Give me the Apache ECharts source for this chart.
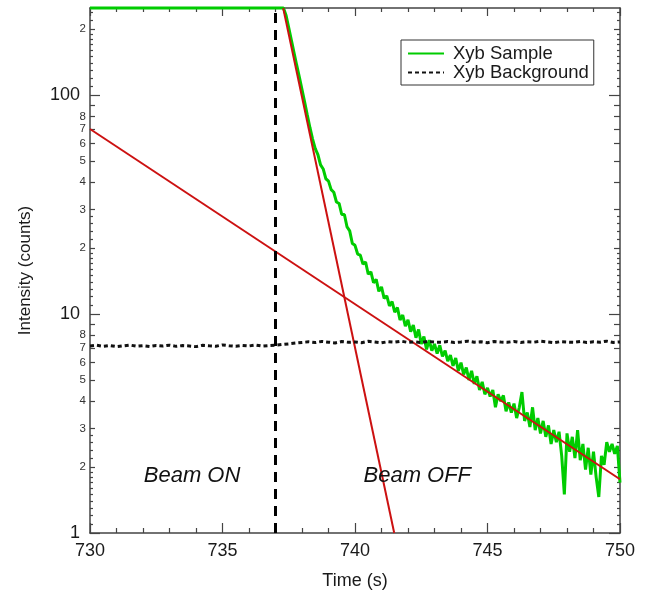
<!DOCTYPE html>
<html>
<head>
<meta charset="utf-8">
<script src="https://cdn.jsdelivr.net/npm/echarts@6/dist/echarts.min.js"></script>
<style>
  html, body { margin: 0; padding: 0; background: #fff; }
  #chart { width: 652px; height: 596px; }
</style>
</head>
<body>
<div id="chart"></div>
<script>
// ---- data -------------------------------------------------------------
// Sample counts: detector saturated while the beam is on
const saturatedTime = [730];
const saturatedCounts = [250];

// Sample counts after beam shut-off, one reading every 0.1 s from 737.3 s
const decayStart = 737.3;
const decayStep = 0.1;
const decayCounts = [
  250, 231, 203, 178, 156, 137, 121, 106, 93, 81,
  71, 63, 57, 53.5, 48, 46, 41.5, 40.5, 37, 36,
  32.5, 32, 28.5, 28.5, 25, 24, 21, 20.6, 18.8, 18.6,
  16.9, 17.3, 15.2, 15.6, 13.9, 14.4, 12.7, 13.3, 11.8, 12.1,
  10.9, 11.4, 10.2, 10.7, 9.4, 9.9, 8.8, 9.4, 8.3, 8.9,
  7.8, 8.5, 7.3, 7.9, 6.9, 7.6, 6.8, 7.3, 6.6, 7.2,
  6.4, 6.8, 6.1, 6.5, 5.8, 6.3, 5.5, 6.0, 5.3, 5.7,
  5.0, 5.5, 4.8, 5.2, 4.5, 4.9, 4.3, 4.6, 4.2, 4.5,
  3.75, 4.3, 4.0, 4.25, 3.6, 3.95, 3.55, 3.9, 3.35, 3.75,
  4.4, 3.25, 3.55, 3.05, 3.75, 2.95, 3.35, 2.85, 3.25, 2.75,
  3.1, 2.55, 2.95, 2.6, 2.9, 2.25, 1.5, 2.85, 2.35, 2.75,
  2.2, 2.95, 2.15, 2.55, 1.95, 2.45, 1.85, 2.35, 1.8, 1.46,
  2.25, 2.05, 2.6, 2.35, 2.55, 2.3, 2.5, 1.7
];

// Background counts, one reading every 0.25 s from 730 s
const bgStart = 730;
const bgStep = 0.25;
const bgCounts = [
  7.15, 7.20, 7.12, 7.18, 7.10, 7.16, 7.22, 7.13,
  7.17, 7.11, 7.19, 7.14, 7.21, 7.12, 7.18, 7.15,
  7.10, 7.20, 7.16, 7.13, 7.23, 7.17, 7.12, 7.19,
  7.15, 7.22, 7.14, 7.18,
  7.20, 7.26, 7.31, 7.37,
  7.42, 7.47, 7.41, 7.50, 7.44, 7.38, 7.49, 7.43,
  7.46, 7.40, 7.51, 7.45, 7.39, 7.48, 7.44, 7.52,
  7.42, 7.47, 7.40, 7.50, 7.45, 7.43, 7.49, 7.41,
  7.46, 7.52, 7.44, 7.47, 7.40, 7.49, 7.45, 7.43,
  7.50, 7.42, 7.47, 7.44, 7.51, 7.46, 7.40, 7.48,
  7.45, 7.43, 7.50, 7.41, 7.47, 7.44, 7.52, 7.42,
  7.46
];

// Exponential fits (straight lines on the log axis): end points
const fastFitTime = [737.29, 741.48];
const fastFitCounts = [250, 1];
const slowFitTime = [730, 750];
const slowFitCounts = [70, 1.76];

// Beam switch-off time
const beamOffTime = 737;

// Region annotations
const noteText = ['Beam ON', 'Beam OFF'];
const noteTime = [733.85, 742.35];
const noteCounts = [1.83, 1.83];

// Axis ranges and ticks
const xMin = 730, xMax = 750, xStep = 5;
const yMin = 1, yMax = 250;
const yMajorTicks = [1, 10, 100];
const yMidTicks = [2, 3, 4, 5, 6, 7, 8, 9, 20, 30, 40, 50, 60, 70, 80, 90, 200];
const yMidLabels = [2, 3, 4, 5, 6, 7, 8, 20, 30, 40, 50, 60, 70, 80, 200];
const yFineTicks = [
  1.1, 1.2, 1.3, 1.4, 1.5, 1.6, 1.7, 1.8, 1.9, 2.2, 2.4, 2.6, 2.8,
  11, 12, 13, 14, 15, 16, 17, 18, 19, 22, 24, 26, 28,
  110, 120, 130, 140, 150, 160, 170, 180, 190, 220, 240
];

// ---- helpers ----------------------------------------------------------
const FONT = "'Liberation Sans', Arial, Helvetica, sans-serif";
const AXIS_COLOR = '#444';
const TEXT_COLOR = '#1a1a1a';
const round2 = v => Math.round(v * 100) / 100;

const sampleData = saturatedTime.map((t, i) => [t, saturatedCounts[i]])
  .concat(decayCounts.map((v, i) => [round2(decayStart + i * decayStep), v]));
const bgData = bgCounts.map((v, i) => [round2(bgStart + i * bgStep), v]);
const fastFitData = fastFitTime.map((t, i) => [t, fastFitCounts[i]]);
const slowFitData = slowFitTime.map((t, i) => [t, slowFitCounts[i]]);
const noteData = noteText.map((s, i) => ({ value: [noteTime[i], noteCounts[i]], name: s }));

const leadingDigit = v => String(Math.round(v / Math.pow(10, Math.floor(Math.log10(v) + 1e-9))));

// One log-scaled y axis layer: a set of ticks of one length (and optional labels)
function yLayer(position, ticks, length, labelOpt, showLine) {
  return {
    type: 'log', logBase: 10, min: yMin, max: yMax, position: position, offset: 0,
    axisLine: { show: !!showLine, lineStyle: { color: AXIS_COLOR, width: 1.5 } },
    axisTick: { show: true, inside: true, length: length, customValues: ticks,
      lineStyle: { color: AXIS_COLOR, width: 1.2 } },
    minorTick: { show: false },
    splitLine: { show: false },
    axisLabel: labelOpt || { show: false }
  };
}

const chart = echarts.init(document.getElementById('chart'), null, { renderer: 'canvas' });

const option = {
  animation: false,
  textStyle: { fontFamily: FONT },
  grid: { left: 90, right: 32, top: 8, bottom: 63, containLabel: false, outerBoundsMode: 'none' },
  legend: {
    data: ['Xyb Sample', 'Xyb Background'],
    orient: 'vertical', left: 401, top: 40,
    backgroundColor: '#fff', borderColor: '#333', borderWidth: 1, borderRadius: 0,
    padding: [4, 5, 3, 6], itemGap: 0, itemWidth: 36, itemHeight: 14,
    itemStyle: { opacity: 0 },
    textStyle: { fontFamily: FONT, fontSize: 18.5, color: TEXT_COLOR, lineHeight: 19, padding: [0, 0, 0, 4] }
  },
  xAxis: [
    {
      type: 'value', min: xMin, max: xMax, interval: xStep, position: 'bottom',
      name: 'Time (s)', nameLocation: 'middle', nameGap: 39,
      nameTextStyle: { fontFamily: FONT, fontSize: 18, color: TEXT_COLOR },
      axisLine: { lineStyle: { color: AXIS_COLOR, width: 1.5 } },
      axisTick: { inside: true, length: 10, lineStyle: { color: AXIS_COLOR, width: 1.2 } },
      minorTick: { show: true, splitNumber: 5, length: 5, lineStyle: { color: AXIS_COLOR, width: 1.2 } },
      axisLabel: { fontFamily: FONT, fontSize: 18, color: TEXT_COLOR, margin: 9 },
      splitLine: { show: false }
    },
    {
      type: 'value', min: xMin, max: xMax, interval: xStep, position: 'top',
      axisLine: { lineStyle: { color: AXIS_COLOR, width: 1.5 } },
      axisTick: { inside: true, length: 8, lineStyle: { color: AXIS_COLOR, width: 1.2 } },
      minorTick: { show: true, splitNumber: 5, length: 4, lineStyle: { color: AXIS_COLOR, width: 1.2 } },
      axisLabel: { show: false },
      splitLine: { show: false }
    }
  ],
  yAxis: [
    Object.assign(yLayer('left', yMajorTicks, 10, {
      show: true, customValues: yMajorTicks, fontFamily: FONT, fontSize: 18, color: TEXT_COLOR, margin: 10
    }, true), {
      name: 'Intensity (counts)', nameLocation: 'middle', nameGap: 56, nameRotate: 90,
      nameTextStyle: { fontFamily: FONT, fontSize: 17, color: TEXT_COLOR }
    }),
    yLayer('left', yMidTicks, 5, {
      show: true, customValues: yMidLabels, fontFamily: FONT, fontSize: 11.5, color: '#333', margin: 4,
      formatter: v => leadingDigit(v)
    }, false),
    yLayer('left', yFineTicks, 3, null, false),
    yLayer('right', yMajorTicks, 11, null, true),
    yLayer('right', yMidTicks, 6, null, false),
    yLayer('right', yFineTicks, 3, null, false)
  ],
  series: [
    {
      name: 'Xyb Sample', type: 'line', xAxisIndex: 0, yAxisIndex: 0,
      data: sampleData, symbol: 'none', clip: false, z: 2,
      lineStyle: { color: '#00cc00', width: 3 }, itemStyle: { color: '#00cc00' }
    },
    {
      name: 'Xyb Background', type: 'line', xAxisIndex: 0, yAxisIndex: 0,
      data: bgData, symbol: 'none', z: 4,
      lineStyle: { color: '#111', width: 3, type: [4, 3] }, itemStyle: { color: '#111' }
    },
    {
      name: 'Fast fit', type: 'line', xAxisIndex: 0, yAxisIndex: 0,
      data: fastFitData, symbol: 'none', clip: true, z: 3,
      lineStyle: { color: '#cc1111', width: 2 }
    },
    {
      name: 'Slow fit', type: 'line', xAxisIndex: 0, yAxisIndex: 0,
      data: slowFitData, symbol: 'none', clip: true, z: 3,
      lineStyle: { color: '#cc1111', width: 2 },
      markLine: {
        silent: true, symbol: ['none', 'none'], label: { show: false },
        lineStyle: { color: '#000', width: 3, type: [10, 7] },
        emphasis: { disabled: true },
        data: [{ xAxis: beamOffTime }]
      }
    },
    {
      name: 'Notes', type: 'scatter', xAxisIndex: 0, yAxisIndex: 0,
      data: noteData, symbolSize: 1, itemStyle: { color: 'rgba(0,0,0,0)' }, z: 5,
      label: {
        show: true, position: 'inside', formatter: p => p.name,
        fontFamily: FONT, fontSize: 22, fontStyle: 'italic', color: '#111', opacity: 1
      }
    }
  ]
};

chart.setOption(option);
</script>
</body>
</html>
